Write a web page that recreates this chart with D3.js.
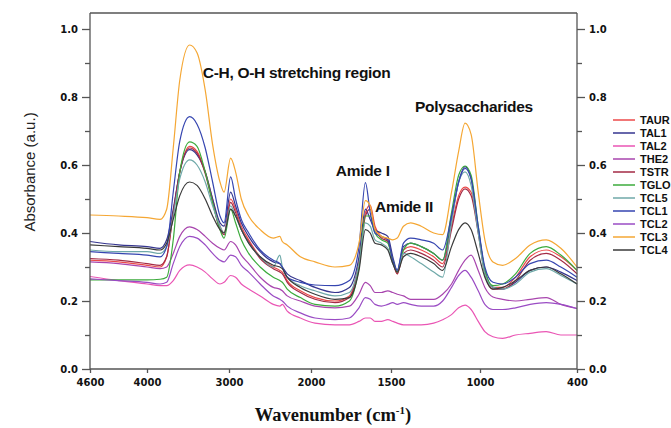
<!DOCTYPE html>
<html>
<head>
<meta charset="utf-8">
<script src="https://cdn.jsdelivr.net/npm/d3@7"></script>
<style>
  body { margin: 0; background: #fff; }
  svg { display: block; }
  .tick text { font-family: "DejaVu Sans", sans-serif; font-weight: bold; font-size: 10px; fill: #111; }
  .axis path, .axis line { stroke: #555; stroke-width: 1.3; }
</style>
</head>
<body>
<div id="chart"></div>
<script>
// 1: DATA (absorbance, per wavenumber)
const wavenumbers = [4600, 4300, 4000, 3840, 3760, 3680, 3600, 3480, 3390, 3290, 3200, 3110, 3060, 2980, 2920, 2850, 2760, 2620, 2460, 2380, 2350, 2290, 2130, 1975, 1850, 1760, 1700, 1660, 1630, 1600, 1560, 1520, 1490, 1465, 1430, 1390, 1330, 1260, 1210, 1160, 1120, 1084, 1050, 1010, 970, 920, 860, 780, 690, 590, 500, 400];

const TAUR = [0.32, 0.315, 0.305, 0.30, 0.33, 0.46, 0.58, 0.655, 0.64, 0.58, 0.50, 0.42, 0.40, 0.50, 0.47, 0.42, 0.38, 0.33, 0.30, 0.29, 0.285, 0.26, 0.23, 0.21, 0.20, 0.215, 0.32, 0.46, 0.482, 0.42, 0.39, 0.38, 0.32, 0.28, 0.35, 0.36, 0.35, 0.33, 0.31, 0.42, 0.51, 0.535, 0.52, 0.41, 0.29, 0.24, 0.24, 0.27, 0.33, 0.35, 0.33, 0.29];
const TAL1 = [0.375, 0.365, 0.36, 0.355, 0.38, 0.47, 0.58, 0.645, 0.63, 0.58, 0.50, 0.43, 0.42, 0.52, 0.48, 0.43, 0.39, 0.345, 0.315, 0.31, 0.30, 0.28, 0.26, 0.24, 0.225, 0.24, 0.33, 0.47, 0.44, 0.41, 0.40, 0.39, 0.33, 0.29, 0.36, 0.37, 0.36, 0.34, 0.32, 0.44, 0.55, 0.595, 0.56, 0.41, 0.29, 0.24, 0.235, 0.255, 0.29, 0.30, 0.285, 0.26];
const TAL2 = [0.272, 0.26, 0.25, 0.245, 0.245, 0.26, 0.29, 0.306, 0.30, 0.285, 0.265, 0.25, 0.255, 0.275, 0.27, 0.25, 0.235, 0.215, 0.19, 0.185, 0.19, 0.17, 0.15, 0.135, 0.13, 0.13, 0.14, 0.15, 0.15, 0.14, 0.14, 0.145, 0.14, 0.135, 0.13, 0.13, 0.13, 0.135, 0.145, 0.16, 0.18, 0.188, 0.175, 0.14, 0.11, 0.095, 0.09, 0.10, 0.105, 0.11, 0.10, 0.10];
const THE2 = [0.315, 0.31, 0.30, 0.295, 0.30, 0.34, 0.39, 0.418, 0.41, 0.39, 0.37, 0.355, 0.35, 0.375, 0.365, 0.335, 0.31, 0.27, 0.24, 0.235, 0.23, 0.215, 0.20, 0.185, 0.18, 0.185, 0.22, 0.255, 0.245, 0.225, 0.225, 0.23, 0.225, 0.22, 0.215, 0.205, 0.205, 0.205, 0.22, 0.25, 0.29, 0.32, 0.335, 0.29, 0.24, 0.212, 0.205, 0.20, 0.205, 0.21, 0.19, 0.178];
const TSTR = [0.325, 0.32, 0.31, 0.305, 0.33, 0.46, 0.58, 0.65, 0.635, 0.575, 0.49, 0.41, 0.395, 0.49, 0.46, 0.41, 0.375, 0.325, 0.295, 0.285, 0.28, 0.255, 0.225, 0.205, 0.195, 0.21, 0.31, 0.45, 0.47, 0.41, 0.385, 0.375, 0.315, 0.28, 0.34, 0.35, 0.34, 0.32, 0.30, 0.41, 0.50, 0.53, 0.51, 0.40, 0.28, 0.235, 0.235, 0.26, 0.32, 0.34, 0.32, 0.28];
const TGLO = [0.262, 0.262, 0.262, 0.264, 0.27, 0.38, 0.58, 0.668, 0.655, 0.58, 0.49, 0.41, 0.385, 0.47, 0.43, 0.38, 0.34, 0.30, 0.27, 0.26, 0.255, 0.235, 0.21, 0.19, 0.185, 0.20, 0.30, 0.45, 0.45, 0.40, 0.38, 0.37, 0.32, 0.285, 0.35, 0.37, 0.36, 0.34, 0.32, 0.46, 0.57, 0.597, 0.57, 0.42, 0.29, 0.245, 0.25, 0.28, 0.34, 0.36, 0.335, 0.29];
const TCL5 = [0.35, 0.345, 0.345, 0.34, 0.36, 0.45, 0.56, 0.615, 0.60, 0.55, 0.48, 0.42, 0.40, 0.48, 0.45, 0.41, 0.37, 0.33, 0.30, 0.335, 0.30, 0.27, 0.245, 0.23, 0.215, 0.225, 0.31, 0.43, 0.42, 0.38, 0.37, 0.355, 0.31, 0.29, 0.34, 0.33, 0.31, 0.285, 0.27, 0.43, 0.55, 0.58, 0.54, 0.40, 0.28, 0.24, 0.235, 0.25, 0.285, 0.295, 0.275, 0.25];
const TCL1 = [0.345, 0.34, 0.335, 0.33, 0.36, 0.52, 0.67, 0.742, 0.72, 0.65, 0.55, 0.45, 0.43, 0.565, 0.50, 0.44, 0.40, 0.35, 0.32, 0.31, 0.30, 0.27, 0.255, 0.247, 0.245, 0.26, 0.36, 0.548, 0.46, 0.40, 0.39, 0.38, 0.32, 0.29, 0.37, 0.385, 0.38, 0.37, 0.35, 0.45, 0.55, 0.59, 0.56, 0.42, 0.30, 0.255, 0.25, 0.27, 0.31, 0.32, 0.30, 0.27];
const TCL2 = [0.265, 0.26, 0.255, 0.25, 0.255, 0.31, 0.36, 0.39, 0.385, 0.365, 0.34, 0.32, 0.315, 0.335, 0.33, 0.305, 0.285, 0.25, 0.215, 0.205, 0.20, 0.185, 0.165, 0.15, 0.145, 0.15, 0.18, 0.21, 0.205, 0.19, 0.185, 0.19, 0.195, 0.19, 0.195, 0.19, 0.185, 0.185, 0.20, 0.24, 0.275, 0.29, 0.27, 0.23, 0.19, 0.175, 0.175, 0.18, 0.19, 0.195, 0.19, 0.178];
const TCL3 = [0.453, 0.45, 0.445, 0.44, 0.47, 0.65, 0.85, 0.953, 0.93, 0.82, 0.66, 0.55, 0.52, 0.62, 0.58, 0.50, 0.45, 0.41, 0.385, 0.39, 0.375, 0.365, 0.33, 0.315, 0.30, 0.305, 0.37, 0.495, 0.48, 0.41, 0.39, 0.385, 0.38, 0.385, 0.42, 0.43, 0.42, 0.40, 0.395, 0.52, 0.64, 0.723, 0.69, 0.52, 0.38, 0.315, 0.305, 0.325, 0.365, 0.38, 0.355, 0.30];
const TCL4 = [0.365, 0.36, 0.355, 0.35, 0.37, 0.44, 0.51, 0.55, 0.54, 0.50, 0.45, 0.41, 0.40, 0.47, 0.45, 0.41, 0.37, 0.33, 0.305, 0.30, 0.295, 0.27, 0.24, 0.22, 0.205, 0.21, 0.29, 0.41, 0.40, 0.37, 0.365, 0.35, 0.31, 0.285, 0.33, 0.34, 0.33, 0.31, 0.29, 0.36, 0.41, 0.43, 0.41, 0.34, 0.27, 0.235, 0.24, 0.26, 0.29, 0.30, 0.28, 0.25];

const seriesNames = ["TAUR", "TAL1", "TAL2", "THE2", "TSTR", "TGLO", "TCL5", "TCL1", "TCL2", "TCL3", "TCL4"];
const seriesValues = [TAUR, TAL1, TAL2, THE2, TSTR, TGLO, TCL5, TCL1, TCL2, TCL3, TCL4];
const seriesColors = ["#ec4a4a", "#35358f", "#ea55b4", "#a845ae", "#a32a45", "#3cab3c", "#6fa9a9", "#3545b0", "#9a4cc4", "#f5a734", "#3a3a3a"];

const xTickValues = [4600, 4000, 3000, 2000, 1500, 1000, 400];
const yTickValues = [0.0, 0.2, 0.4, 0.6, 0.8, 1.0];
const yMinorTicks = [0.1, 0.3, 0.5, 0.7, 0.9];

const annotations = [
  { text: "C-H, O-H stretching region", wn: 3320, v: 0.855 },
  { text: "Amide I", wn: 1845, v: 0.568 },
  { text: "Amide II", wn: 1600, v: 0.462 },
  { text: "Polysaccharides", wn: 1365, v: 0.757 }
];

// 2: SVG + SCALES
const W = 671, H = 428;
const svg = d3.select("#chart").append("svg")
    .attr("width", W)
    .attr("height", H);

// the x axis of the original is not evenly spaced, so piecewise linear
const x = d3.scaleLinear()
    .domain([4600, 4000, 3000, 2000, 1500, 1000, 400])
    .range([90, 147, 229, 311, 391, 480, 577]);

const y = d3.scaleLinear()
    .domain([0, 1])
    .range([369, 29]);

const yTop = y(1.047);

// 3: LINES
const line = d3.line()
    .x(d => x(d.wn))
    .y(d => y(d.v))
    .curve(d3.curveMonotoneX);

const plotData = seriesNames.map((name, i) => ({
    name,
    color: seriesColors[i],
    points: wavenumbers.map((wn, j) => ({ wn, v: seriesValues[i][j] }))
}));

svg.append("g")
  .selectAll("path")
  .data(plotData)
  .enter()
  .append("path")
    .attr("d", d => line(d.points))
    .attr("fill", "none")
    .attr("stroke", d => d.color)
    .attr("stroke-width", 1.2)
    .attr("stroke-linejoin", "round");

// 4: AXES
svg.append("g")
    .attr("class", "axis")
    .attr("transform", `translate(${x(4600)},0)`)
    .call(d3.axisLeft(y).tickValues(yTickValues).tickFormat(d3.format(".1f")).tickSize(8).tickPadding(4))
    .call(g => g.select(".domain").attr("d", `M0,${y(0)}V${yTop}`));

svg.append("g")
    .attr("class", "axis")
    .attr("transform", `translate(${x(4600)},0)`)
    .call(d3.axisLeft(y).tickValues(yMinorTicks).tickFormat("").tickSize(5))
    .call(g => g.select(".domain").remove());

svg.append("g")
    .attr("class", "axis")
    .attr("transform", `translate(${x(400)},0)`)
    .call(d3.axisRight(y).tickValues(yTickValues).tickFormat(d3.format(".1f")).tickSize(8).tickPadding(4))
    .call(g => g.select(".domain").attr("d", `M0,${y(0)}V${yTop}`));

svg.append("g")
    .attr("class", "axis")
    .attr("transform", `translate(${x(400)},0)`)
    .call(d3.axisRight(y).tickValues(yMinorTicks).tickFormat("").tickSize(5))
    .call(g => g.select(".domain").remove());

svg.append("g")
    .attr("class", "axis")
    .attr("transform", `translate(0,${y(0)})`)
    .call(d3.axisBottom(x).tickValues(xTickValues).tickFormat(d3.format("d")).tickSize(4).tickPadding(6))
    .call(g => g.select(".domain").attr("d", `M${x(4600)},0H${x(400)}`));

// top frame line
svg.append("line")
    .attr("x1", x(4600)).attr("x2", x(400))
    .attr("y1", yTop).attr("y2", yTop)
    .attr("stroke", "#555")
    .attr("stroke-width", 1.3);

// 5: LABELS
svg.append("text")
    .attr("transform", `translate(35,${172}) rotate(-90)`)
    .attr("text-anchor", "middle")
    .style("font-family", "'Liberation Sans', Arial, sans-serif")
    .style("font-size", "15px")
    .style("fill", "#222")
    .text("Absorbance (a.u.)");

const xTitle = svg.append("text")
    .attr("x", 333)
    .attr("y", 421)
    .attr("text-anchor", "middle")
    .style("font-family", "'Liberation Serif', 'Times New Roman', serif")
    .style("font-weight", "bold")
    .style("font-size", "18.5px")
    .style("fill", "#111");
xTitle.append("tspan").text("Wavenumber (cm");
xTitle.append("tspan").attr("dy", -7).style("font-size", "11px").text("-1");
xTitle.append("tspan").attr("dy", 7).text(")");

svg.append("g")
  .selectAll("text")
  .data(annotations)
  .enter()
  .append("text")
    .attr("x", d => x(d.wn))
    .attr("y", d => y(d.v))
    .style("font-family", "'Liberation Sans', Arial, sans-serif")
    .style("font-weight", "bold")
    .style("font-size", "15.5px")
    .style("letter-spacing", "-0.3px")
    .style("fill", "#111")
    .text(d => d.text);

// 6: LEGEND
const legend = svg.append("g")
    .attr("transform", "translate(613,120)");

const rows = legend.selectAll("g")
  .data(plotData)
  .enter()
  .append("g")
    .attr("transform", (d, i) => `translate(0,${i * 13})`);

rows.append("line")
    .attr("x1", 0).attr("x2", 22)
    .attr("stroke", d => d.color)
    .attr("stroke-width", 1.5);

rows.append("text")
    .attr("x", 27)
    .attr("dy", "0.35em")
    .style("font-family", "'Liberation Sans Narrow', 'Arial Narrow', sans-serif")
    .style("font-weight", "bold")
    .style("font-size", "11px")
    .style("fill", "#111")
    .text(d => d.name);
</script>
</body>
</html>
